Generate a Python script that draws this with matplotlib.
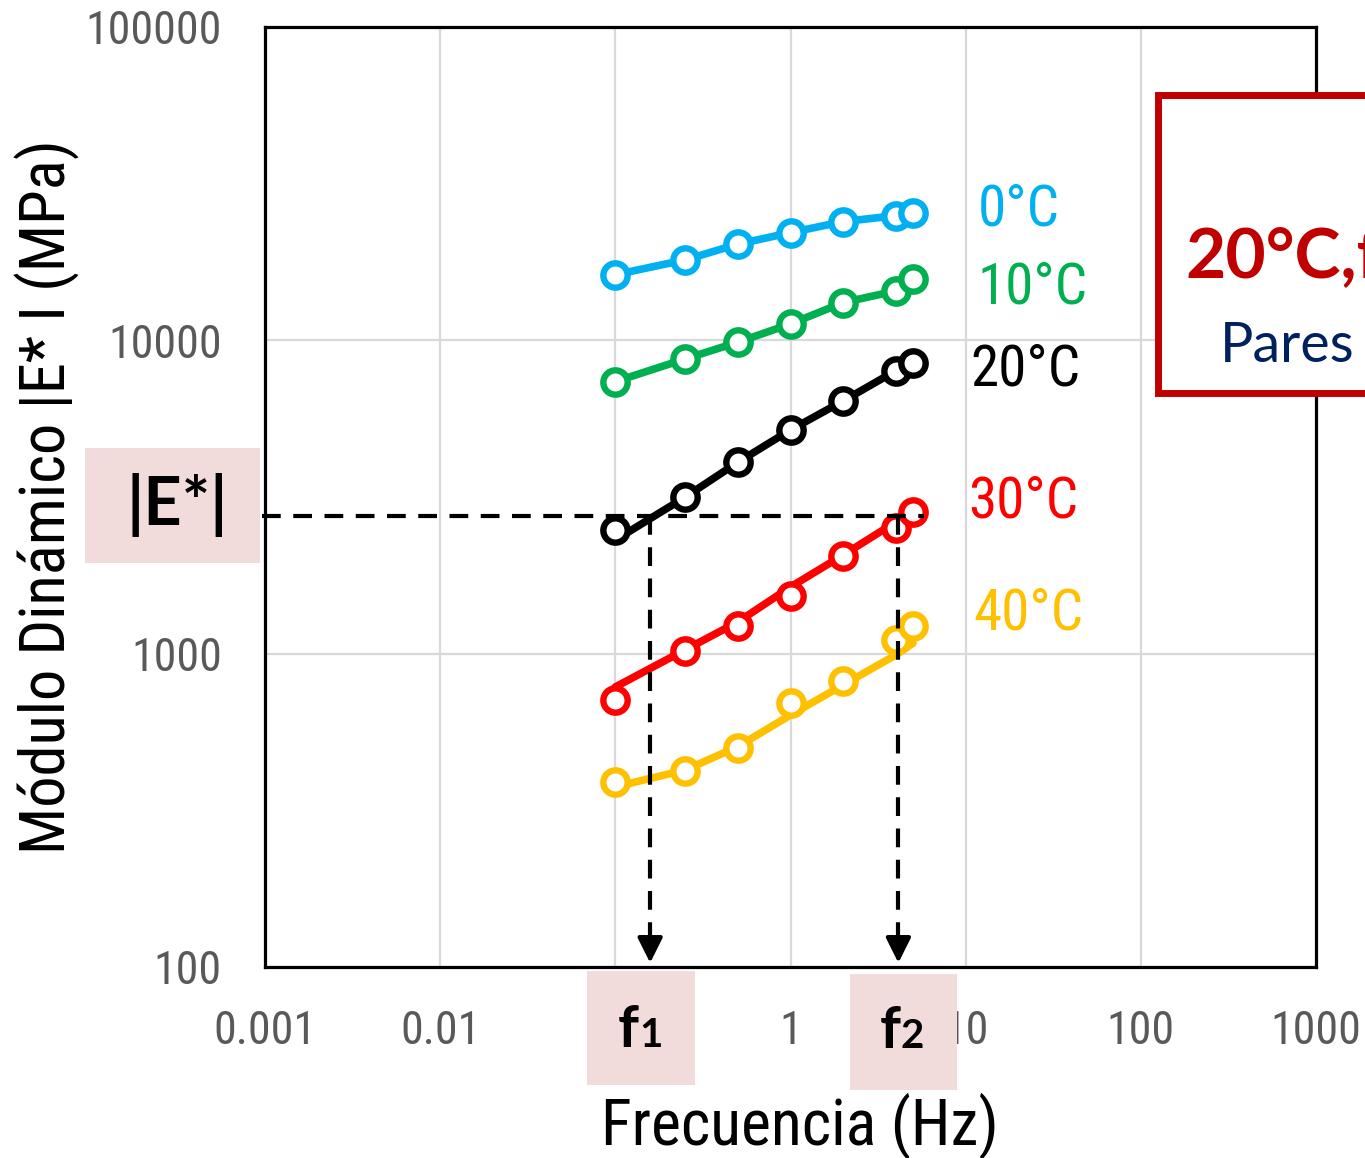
import matplotlib
matplotlib.use("Agg")
import matplotlib.pyplot as plt
from matplotlib import font_manager
from matplotlib.patches import Rectangle

# frequencies (Hz) of the sweep
freq = [0.1, 0.25, 0.5, 1, 2, 4, 5]

# measured |E*| (MPa) per temperature
e_0 = [16200, 18060, 20270, 22070, 23930, 25000, 25450]
e_10 = [7385, 8720, 9860, 11280, 13200, 14380, 15670]
e_20 = [2482, 3157, 4081, 5176, 6407, 8004, 8490]
e_30 = [711, 1020, 1229, 1531, 2050, 2525, 2840]
e_40 = [390, 423, 499, 694, 820, 1106, 1226]

# smoothed curves drawn under the points
fit_0 = [16200, 18060, 20270, 22070, 23930, 25000, 25450]
fit_10 = [7385, 8720, 9860, 11280, 13200, 14380, 15670]
fit_20 = [2306, 3157, 4081, 5176, 6407, 8004, 8490]
fit_30 = [783, 1028, 1262, 1633, 2065, 2633, 2875]
fit_40 = [376, 425, 505, 637, 795, 991, 1080]

temps = ["0°C", "10°C", "20°C", "30°C", "40°C"]
colors = ["#00B0F0", "#00B050", "#000000", "#FF0000", "#FFC000"]

# reading of |E*| at 20 °C and the two matching frequencies
e_target = 2751
f1 = 0.158
f2 = 4.13

x_ticks = [0.001, 0.01, 0.1, 1, 10, 100, 1000]
x_labels = ["0.001", "0.01", "0.1", "1", "10", "100", "1000"]
y_ticks = [100, 1000, 10000, 100000]
y_labels = ["100", "1000", "10000", "100000"]

# pick a condensed face if one is around
installed = {f.name for f in font_manager.fontManager.ttflist}
narrow_name = "DejaVu Sans"
for cand in ["Liberation Sans Narrow", "Roboto Condensed",
             "DejaVu Sans Condensed", "Open Sans Condensed"]:
    if cand in installed:
        narrow_name = cand
        break
plt.rcParams["font.family"] = [narrow_name, "DejaVu Sans"]
plt.rcParams["font.stretch"] = "condensed"

fig = plt.figure(figsize=(13.65, 11.58), dpi=100)
ax = fig.add_axes([265 / 1365, 191 / 1158, 1051 / 1365, 940 / 1158])
ax.set_xscale("log")
ax.set_yscale("log")
ax.set_xlim(0.001, 1000)
ax.set_ylim(100, 100000)

ax.set_xticks(x_ticks)
ax.set_xticklabels(x_labels)
ax.set_yticks(y_ticks)
ax.set_yticklabels(y_labels)
ax.minorticks_off()
ax.tick_params(length=0, labelsize=33, labelcolor="#595959")
ax.tick_params(axis="x", pad=30)
ax.tick_params(axis="y", pad=31)
ax.grid(True, color="#D9D9D9", lw=1.6)
ax.set_axisbelow(True)
for s in ax.spines.values():
    s.set_linewidth(2.3)
    s.set_color("black")

ax.set_xlabel("Frecuencia (Hz)", fontsize=46, va="center")
ax.xaxis.set_label_coords(0.509, -0.170)
ax.set_ylabel("Módulo Dinámico |E* I (MPa)", fontsize=45, va="center")
ax.yaxis.set_label_coords(-0.2074, 0.5)

data = [e_0, e_10, e_20, e_30, e_40]
fits = [fit_0, fit_10, fit_20, fit_30, fit_40]
for vals, fit, c in zip(data, fits, colors):
    ax.plot(freq, fit, color=c, lw=5.5, zorder=3, solid_capstyle="round")
    ax.plot(freq, vals, ls="none", marker="o", ms=17.5, mew=4.6,
            mec=c, mfc="white", zorder=4)

# temperature tags at the end of each curve
tag_x = [11.7, 11.7, 10.6, 10.3, 11.1]
tag_y = [26000, 14700, 8050, 3050, 1340]
for t, c, tx, ty in zip(temps, colors, tag_x, tag_y):
    ax.text(tx, ty, t, color=c, fontsize=41, ha="left", va="center")

# dashed reading lines
dash = dict(color="black", lw=3, dashes=(4.5, 3), zorder=5)
ax.plot([0.00096, 5.8], [e_target, e_target], clip_on=False, **dash)
ax.plot([f1, f1], [e_target, 114], **dash)
ax.plot([f2, f2], [e_target, 114], clip_on=False, **dash)
for f in (f1, f2):
    ax.annotate("", xy=(f, 101), xytext=(f, 120),
                arrowprops=dict(arrowstyle="-|>", color="black", lw=3,
                                mutation_scale=38), zorder=6,
                annotation_clip=False)

# shaded label boxes
W, H = 1365, 1158


def box(x0, y0, x1, y1, **kw):
    r = Rectangle((x0 / W, 1 - y1 / H), (x1 - x0) / W, (y1 - y0) / H,
                  transform=fig.transFigure, **kw)
    fig.add_artist(r)


pink = "#F2DCDB"
box(85, 448, 260, 563, fc=pink, ec="none", zorder=2)
box(587, 971, 695, 1085, fc=pink, ec="none", zorder=2)
box(850, 974, 957, 1090, fc=pink, ec="none", zorder=2)

bold = ["Lato", "DejaVu Sans"]
fig.text(177 / W, 1 - 505 / H, "|E*|", fontsize=48, fontweight="bold",
         family=bold, ha="center", va="center", zorder=3)
fig.text(639 / W, 1 - 1047 / H, "f", fontsize=42, fontweight="bold",
         family=bold, ha="right", va="baseline", zorder=3)
fig.text(639 / W, 1 - 1047 / H, "1", fontsize=29, fontweight="bold",
         family=bold, ha="left", va="baseline", zorder=3)
fig.text(901 / W, 1 - 1048 / H, "f", fontsize=42, fontweight="bold",
         family=bold, ha="right", va="baseline", zorder=3)
fig.text(901 / W, 1 - 1048 / H, "2", fontsize=29, fontweight="bold",
         family=bold, ha="left", va="baseline", zorder=3)

# red callout running off the right edge
box(1158, 95, 1420, 393, fc="white", ec="#C00000", lw=5, zorder=2)
fig.text(1185 / W, 1 - 277 / H, "20°C,f", fontsize=50, fontweight="bold",
         family=bold, color="#C00000", ha="left", va="baseline", zorder=3)
fig.text(1220 / W, 1 - 362 / H, "Pares", fontsize=40,
         family=bold, color="#002060", ha="left", va="baseline", zorder=3)

fig.savefig("out.png", dpi=100)
